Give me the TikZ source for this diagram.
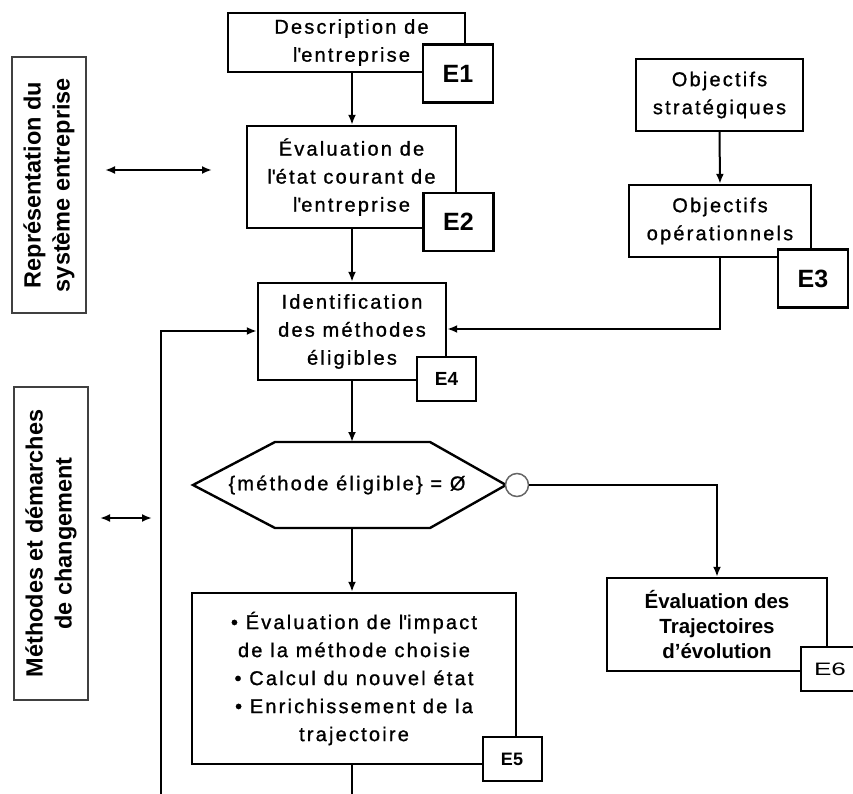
\documentclass[tikz,border=0pt]{standalone}
\usepackage{fontspec}
\setmainfont{Liberation Sans}
\newfontfamily\spaced[LetterSpace=11,FakeBold=1]{Liberation Sans}
\usetikzlibrary{arrows.meta}
\newcommand{\apos}{\textquotesingle}
\begin{document}
\begin{tikzpicture}[x=1pt,y=-1pt,
  every node/.style={inner sep=0pt, align=center},
  stepbox/.style={draw, line width=2.4pt, fill=white,
    font=\spaced\fontsize{20}{28}\selectfont},
  bigtag/.style={draw, line width=2.4pt, fill=white,
    minimum width=70, minimum height=58,
    font=\bfseries\fontsize{25}{25}\selectfont},
  smalltag/.style={draw, line width=2pt, fill=white,
    minimum width=59, minimum height=44},
  sidebox/.style={draw=black!75, line width=1.5pt, fill=white, rotate=90,
    font=\bfseries\fontsize{23.5}{29}\selectfont},
  link/.style={line width=2pt, -{Latex[length=10pt,width=8pt]}},
  plain/.style={line width=2pt},
  twoway/.style={line width=2pt, {Latex[length=10pt,width=8pt]}-{Latex[length=10pt,width=8pt]}}]
\useasboundingbox (0,0) rectangle (853,794);
\clip (0,0) rectangle (853,794);

% side labels
\node[sidebox, minimum width=256, minimum height=74] (rep) at (49,185)
  {Représentation du\\système entreprise};
\node[sidebox, minimum width=313, minimum height=74] (meth) at (51,543.5)
  {Méthodes et démarches\\de changement};
\coordinate (r1) at (105,170);
\coordinate (r2) at (212,170);
\coordinate (m1) at (100,518);
\coordinate (m2) at (152,518);
\draw[twoway] (r1) -- (r2);
\draw[twoway] (m1) -- (m2);

% main column
\node[stepbox, minimum width=237, minimum height=59] (desc) at (346.5,42.5)
  {\hspace*{10pt}Description de\\\hspace*{10pt}l\apos entreprise};
\node[stepbox, minimum width=209, minimum height=102] (etat) at (351.5,177)
  {Évaluation de\\l\apos état courant de\\l\apos entreprise};
\node[stepbox, minimum width=188, minimum height=97] (ident) at (352,331.5)
  {Identification\\des méthodes\\éligibles};

% objectives column
\node[stepbox, minimum width=167, minimum height=72] (strat) at (719.5,95)
  {Objectifs\\stratégiques};
\node[stepbox, minimum width=182, minimum height=72] (oper) at (720,221)
  {Objectifs\\opérationnels};

% decision hexagon
\coordinate (hW) at (193,485);
\coordinate (hNW) at (275,442);
\coordinate (hNE) at (430,442);
\coordinate (hE) at (506,485);
\coordinate (hSE) at (430,528);
\coordinate (hSW) at (275,528);
\coordinate (hN) at (352,442);
\coordinate (hS) at (352,528);
\draw[line width=2.4pt, line join=miter, fill=white]
  (hW) -- (hNW) -- (hNE) -- (hE) -- (hSE) -- (hSW) -- cycle;
\node[font=\spaced\fontsize{20}{28}\selectfont] (cond) at (347,485)
  {\{méthode éligible\} = Ø};
\node[circle, draw=black!60, line width=1.5pt, fill=white, minimum size=23] (exit) at (517,485) {};

% impact box
\node[stepbox, minimum width=324, minimum height=171] (impact) at (354,678.5)
  {\textbullet{} Évaluation de l\apos impact\\de la méthode choisie\\
   \textbullet{} Calcul du nouvel état\\\textbullet{} Enrichissement de la\\trajectoire};

% trajectories box
\node[draw, line width=2.4pt, fill=white, minimum width=220, minimum height=93,
  font=\bfseries\fontsize{20.5}{25}\selectfont] (traj) at (717,624.5)
  {Évaluation des\\Trajectoires\\d’évolution};

% connectors
\draw[link] (desc.south -| ident) -- (etat.north -| ident);
\draw[link] (etat.south -| ident) -- (ident.north);
\draw[link] (ident.south) -- (hN);
\draw[link] (hS) -- (impact.north -| hS);
\draw[link] (strat.south) -- (oper.north);
\draw[link] (oper.south) -- (oper.south |- 0,329) -- (ident.east |- 0,329);
\draw[link] (exit.east) -- (717,485) -- (traj.north);
\coordinate (loopin) at (161,800);
\coordinate (outE5) at (352,800);
\draw[link] (loopin) -- (161,331) -- (ident.west |- 0,331);
\draw[plain] (impact.south -| hS) -- (outE5);

% step tags
\node[bigtag] (e1) at (458,73.5) {E1};
\node[bigtag] (e2) at (458.5,222) {E2};
\node[bigtag] (e3) at (813,278.5) {E3};
\node[smalltag, font=\bfseries\fontsize{19}{19}\selectfont] (e4) at (446.5,379) {E4};
\node[smalltag, font=\bfseries\fontsize{18}{18}\selectfont] (e5) at (512,759) {E5};
\node[smalltag, font=\fontsize{18}{18}\selectfont] (e6) at (830,669) {\scalebox{1.45}[1]{E6}};
\end{tikzpicture}
\end{document}
